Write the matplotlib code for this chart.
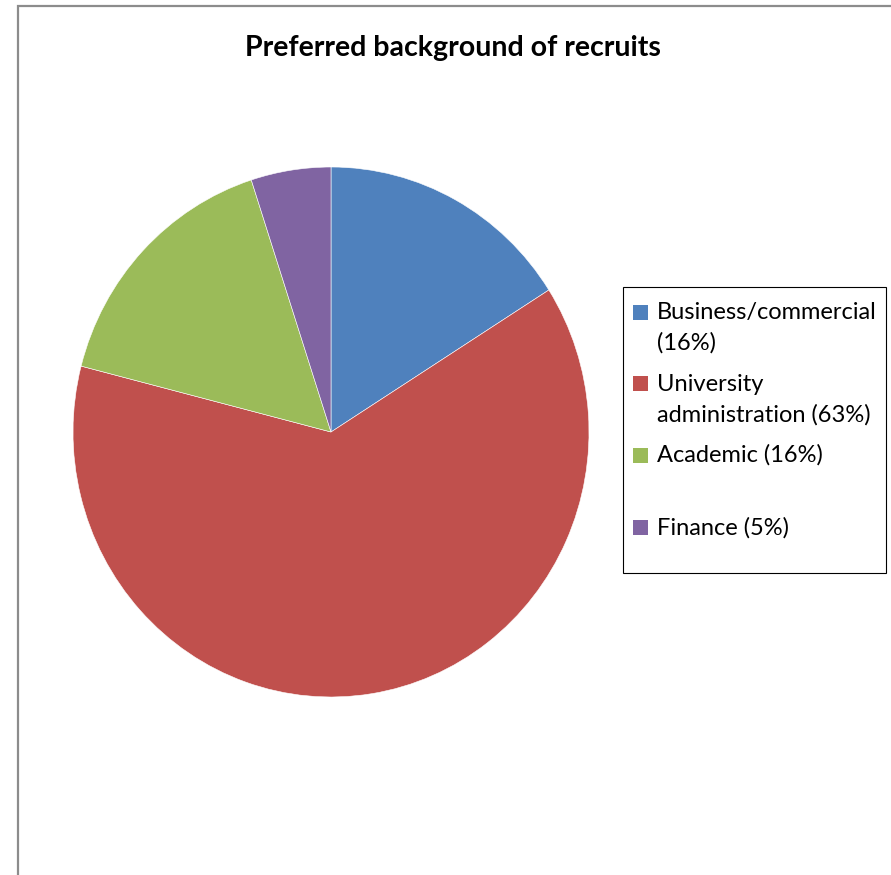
import matplotlib
matplotlib.use('Agg')
import matplotlib.pyplot as plt
from matplotlib.patches import Rectangle

plt.rcParams['font.family'] = ['Lato', 'DejaVu Sans']

labels = ['Business/commercial', 'University administration', 'Academic', 'Finance']
values = [16, 63, 16, 5]
colors = ['#4F81BD', '#C0504D', '#9BBB59', '#8064A2']
# legend text, wrapped the way the original legend shows it
legend_text = ['Business/commercial\n(16%)', 'University\nadministration (63%)',
               'Academic (16%)', 'Finance (5%)']

W, H = 891, 875
fig = plt.figure(figsize=(W / 100, H / 100), dpi=100)

# chart border (runs off the right and bottom edge)
fig.patches.append(Rectangle((17.5 / W, -0.1), 1.2, 1 - 5.5 / H + 0.1,
                             transform=fig.transFigure, fill=False,
                             edgecolor='#8c8c8c', linewidth=1.6))

fig.text(453 / W, 1 - 48 / H, 'Preferred background of recruits',
         ha='center', va='center', fontsize=20.5, fontweight='bold',
         color='black')

# pie, slightly taller than wide like the source
cx, cy, rx, ry = 331, 432, 258, 265
ax = fig.add_axes([(cx - rx) / W, 1 - (cy + ry) / H, 2 * rx / W, 2 * ry / H])
ax.pie(values, colors=colors, startangle=90, counterclock=False,
       wedgeprops=dict(edgecolor='white', linewidth=0.4))
ax.set_aspect('auto')
ax.set_xlim(-1, 1)
ax.set_ylim(-1, 1)
ax.axis('off')

# legend box
fig.patches.append(Rectangle((623 / W, 1 - 573 / H), 263 / W, 286 / H,
                             transform=fig.transFigure, fill=False,
                             edgecolor='black', linewidth=0.8))
marker_y = [312, 383, 455, 527]
text_top = [302, 374, 444, 517]
for t, c, my, ty in zip(legend_text, colors, marker_y, text_top):
    fig.patches.append(Rectangle((633 / W, 1 - (my + 7.5) / H), 15 / W, 15 / H,
                                 transform=fig.transFigure, facecolor=c,
                                 edgecolor='none'))
    fig.text(657 / W, 1 - ty / H, t, ha='left', va='top', fontsize=17,
             linespacing=1.5, color='black')

fig.savefig('out.png', dpi=100)
